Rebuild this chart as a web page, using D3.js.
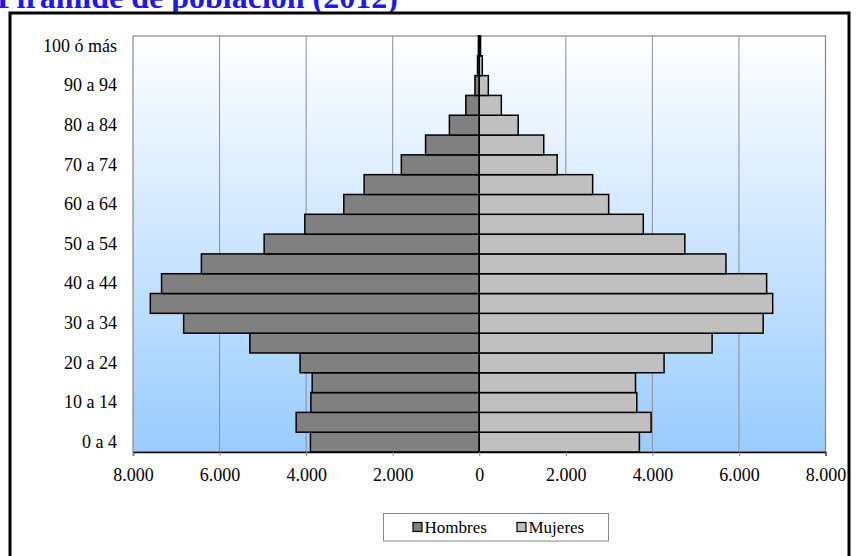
<!DOCTYPE html>
<html><head><meta charset="utf-8">
<script src="https://cdn.jsdelivr.net/npm/d3@7"></script>
<style>
html,body{margin:0;padding:0;background:#fff;}
svg{display:block;}
text{font-family:"Liberation Serif","Times New Roman",serif;}
</style></head>
<body>
<svg id="chart" width="857" height="556"></svg>
<script>
const categories = ["0 a 4","5 a 9","10 a 14","15 a 19","20 a 24","25 a 29","30 a 34","35 a 39","40 a 44","45 a 49","50 a 54","55 a 59","60 a 64","65 a 69","70 a 74","75 a 79","80 a 84","85 a 89","90 a 94","95 a 99","100 ó más"];
const hombres = [3900,4230,3890,3860,4140,5300,6830,7600,7340,6420,4970,4030,3130,2660,1800,1240,690,310,100,40,20];
const mujeres = [3700,3970,3640,3610,4270,5380,6560,6780,6640,5700,4750,3790,2990,2620,1800,1490,900,510,210,70,30];
const xTicks = [-8000,-6000,-4000,-2000,0,2000,4000,6000,8000];
const seriesNames = ["Hombres","Mujeres"];
const seriesColors = ["#808080","#c0c0c0"];
const title = "Pirámide de población (2012)";

const svg = d3.select("#chart");
const L = 133, R = 825.5, T = 36, B = 452;
const FONT = '"Liberation Serif","Times New Roman",serif';

// title (cut off at top like reference)
svg.append("text").attr("x", -3).attr("y", 8)
  .attr("font-size", 32).attr("font-weight", "bold").attr("fill", "#1a1aee")
  .attr("font-family", FONT)
  .text(title);

// outer frame
svg.append("rect").attr("x", 10).attr("y", 13).attr("width", 839).attr("height", 560)
  .attr("fill", "#fff").attr("stroke", "#000").attr("stroke-width", 3);

// gradient
const defs = svg.append("defs");
const g = defs.append("linearGradient").attr("id","bg").attr("x1",0).attr("y1",0).attr("x2",0).attr("y2",1);
g.append("stop").attr("offset","0%").attr("stop-color","#ffffff");
g.append("stop").attr("offset","100%").attr("stop-color","#99ccff");

const x = d3.scaleLinear().domain([-8000, 8000]).range([L, R]);
const y = d3.scaleBand().domain(categories.slice().reverse()).range([T, B]).padding(0);

svg.append("rect").attr("x", L).attr("y", T).attr("width", R - L).attr("height", B - T)
  .attr("fill", "url(#bg)").attr("stroke", "#888").attr("stroke-width", 1.2);

// gridlines
svg.append("g").selectAll("line").data(xTicks.slice(1, -1)).join("line")
  .attr("x1", d => x(d)).attr("x2", d => x(d)).attr("y1", T).attr("y2", B)
  .attr("stroke", "#8c8c96").attr("stroke-width", 1);

// bars
const bars = svg.append("g");
bars.selectAll("rect.h").data(categories).join("rect").attr("class","h")
  .attr("x", (d,i) => x(-hombres[i])).attr("width", (d,i) => x(0) - x(-hombres[i]))
  .attr("y", d => y(d)).attr("height", y.bandwidth())
  .attr("fill", seriesColors[0]).attr("stroke", "#000").attr("stroke-width", 1.5);
bars.selectAll("rect.m").data(categories).join("rect").attr("class","m")
  .attr("x", x(0)).attr("width", (d,i) => x(mujeres[i]) - x(0))
  .attr("y", d => y(d)).attr("height", y.bandwidth())
  .attr("fill", seriesColors[1]).attr("stroke", "#000").attr("stroke-width", 1.5);

// x axis
const xAxis = d3.axisBottom(x).tickValues(xTicks).tickSize(4).tickPadding(12)
  .tickFormat(d => d3.format(",")(Math.abs(d)).replace(/,/g, "."));
const xa = svg.append("g").attr("transform", `translate(0,${B})`).call(xAxis);
xa.attr("font-family", FONT);
xa.select(".domain").attr("stroke", "#000").attr("stroke-width", 1.5);
xa.selectAll(".tick line").attr("stroke", "#888");
xa.selectAll("text").attr("font-size", 18).attr("fill", "#000").attr("font-family", FONT);

// y labels (every other category)
const ya = d3.axisLeft(y).tickValues(categories.filter((d,i) => i % 2 === 0)).tickSize(0).tickPadding(16);
const yg = svg.append("g").attr("transform", `translate(${L},0)`).call(ya);
yg.attr("font-family", FONT);
yg.select(".domain").remove();
yg.selectAll("text").attr("font-size", 18).attr("fill", "#000").attr("font-family", FONT);

// legend
const lg = svg.append("g");
lg.append("rect").attr("x", 383.5).attr("y", 513.5).attr("width", 225).attr("height", 27.5)
  .attr("fill", "#fff").attr("stroke", "#888").attr("stroke-width", 1);
const legX = [413, 517];
seriesNames.forEach((n, i) => {
  lg.append("rect").attr("x", legX[i]).attr("y", 522.5).attr("width", 9).attr("height", 9)
    .attr("fill", seriesColors[i]).attr("stroke", "#000").attr("stroke-width", 1.2);
  lg.append("text").attr("x", legX[i] + 11.5).attr("y", 533).attr("font-size", 17)
    .attr("font-family", FONT).attr("fill", "#000").text(n);
});
</script>
</body></html>
